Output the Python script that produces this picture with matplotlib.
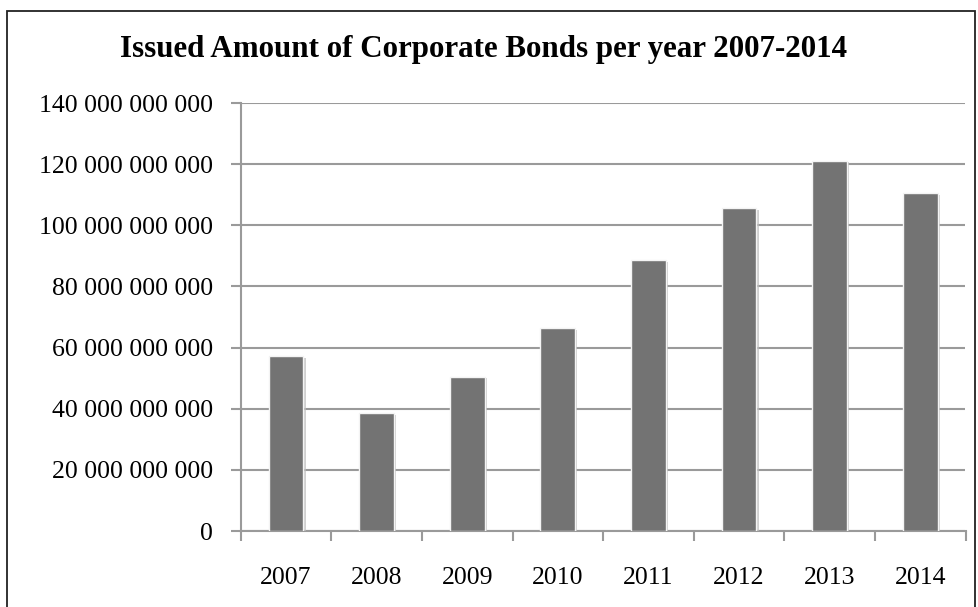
import matplotlib.pyplot as plt
import matplotlib.patheffects as pe
from matplotlib.patches import Rectangle
from matplotlib.ticker import FuncFormatter, MultipleLocator

# Issued amount of corporate bonds per year
years = ["2007", "2008", "2009", "2010", "2011", "2012", "2013", "2014"]
amounts = [57.2e9, 38.5e9, 50.5e9, 66.3e9, 88.6e9, 105.6e9, 121.0e9, 110.5e9]

plt.rcParams['font.family'] = ['Liberation Serif', 'DejaVu Serif']

fig = plt.figure(figsize=(9.79, 6.07), dpi=100)
ax = fig.add_axes([240.7 / 979, 1 - 531 / 607, (965.5 - 240.7) / 979, (531 - 103) / 607])

grid_col = '#9a9a9a'
bars = ax.bar(range(len(years)), amounts, width=0.385, color='#737373',
              edgecolor='#f4f4f4', linewidth=1.0, zorder=3)
for b in bars:
    b.set_path_effects([pe.SimplePatchShadow(offset=(1.5, -1), shadow_rgbFace='#bdbdbd', alpha=0.7),
                        pe.Normal()])

ax.set_xlim(-0.5, len(years) - 0.5)
ax.set_ylim(0, 140e9)
ax.yaxis.set_major_locator(MultipleLocator(20e9))
ax.yaxis.set_major_formatter(FuncFormatter(lambda v, p: f"{int(round(v)):,}".replace(',', ' ')))
ax.set_xticks(range(len(years)))
ax.set_xticklabels(years)
# category boundary ticks on the x axis
ax.set_xticks([i - 0.5 for i in range(len(years) + 1)], minor=True)

ax.grid(axis='y', color=grid_col, linewidth=1.5, zorder=0)
ax.set_axisbelow(True)
for side in ['top', 'right']:
    ax.spines[side].set_visible(False)
for side in ['left', 'bottom']:
    ax.spines[side].set_color(grid_col)
    ax.spines[side].set_linewidth(1.5)

ax.tick_params(axis='y', length=7, width=1.5, color=grid_col, labelsize=18.5, pad=13)
ax.tick_params(axis='x', which='major', length=0, labelsize=18.5, pad=26)
ax.tick_params(axis='x', which='minor', length=7, width=1.5, color=grid_col)

fig.text(484 / 979, 1 - 49 / 607, "Issued Amount of Corporate Bonds per year 2007-2014",
         ha='center', va='center', fontsize=22.3, fontweight='bold')

# outer chart frame
fig.patches.append(Rectangle((7 / 979, -0.05), (975 - 7) / 979, 1 - 11 / 607 + 0.05,
                             transform=fig.transFigure, fill=False,
                             edgecolor='#222222', linewidth=1.3))

fig.savefig('out.png', dpi=100)
